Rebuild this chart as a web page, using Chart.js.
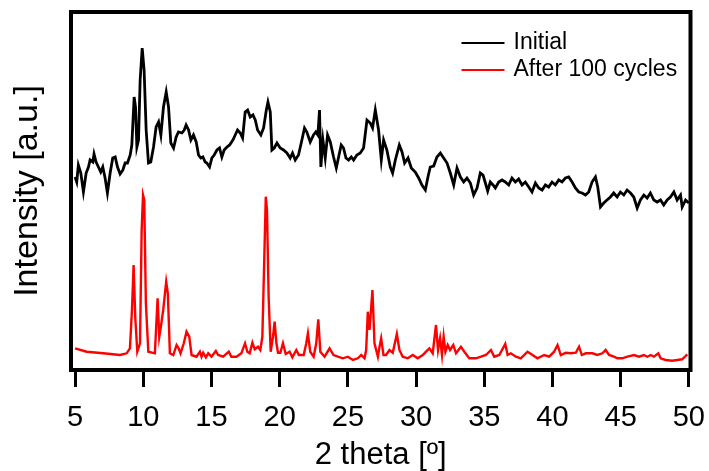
<!DOCTYPE html>
<html lang="en">
<head>
  <meta charset="UTF-8">
  <title>XRD patterns</title>
  <script src="https://cdn.jsdelivr.net/npm/chart.js"></script>
  <style>
    body {
      margin: 0;
      background-color: #ffffff;
    }

    canvas {
      display: block;
    }
  </style>
</head>
<body>
  <canvas id="xrdChart" width="709" height="471"></canvas>

  <script>
    // 2 theta ticks
    const xTicks = [5, 10, 15, 20, 25, 30, 35, 40, 45, 50];

    // Initial sample (black)
    const initialTheta = [
      5.00, 5.12, 5.24, 5.42, 5.61, 5.81, 5.98, 6.10, 6.30, 6.39, 6.54, 6.71, 6.88, 7.03, 7.20, 7.37,
      7.57, 7.76, 7.94, 8.11, 8.30, 8.50, 8.67, 8.84, 9.04, 9.16, 9.33, 9.43, 9.53, 9.65, 9.77, 9.92,
      10.06, 10.21, 10.38, 10.55, 10.75, 10.94, 11.12, 11.29, 11.48, 11.68, 11.85, 12.02, 12.22, 12.41,
      12.58, 12.83, 13.00, 13.14, 13.32, 13.49, 13.68, 13.88, 14.05, 14.22, 14.37, 14.54, 14.66, 14.86,
      15.03, 15.20, 15.40, 15.59, 15.76, 15.93, 16.13, 16.33, 16.57, 16.74, 16.91, 17.11, 17.28, 17.47,
      17.65, 17.84, 18.04, 18.21, 18.38, 18.62, 18.82, 19.02, 19.14, 19.31, 19.43, 19.60, 19.80,
      20.04, 20.28, 20.53, 20.77, 20.94, 21.14, 21.38, 21.58, 21.82, 21.99, 22.24, 22.48, 22.65, 22.80,
      22.92, 23.02, 23.17, 23.34, 23.51, 23.71, 23.95, 24.15, 24.32, 24.51, 24.68, 24.86, 25.05, 25.25,
      25.42, 25.66, 25.91, 26.15, 26.40, 26.64, 26.81, 27.01, 27.25, 27.45, 27.62, 27.86, 28.11, 28.28,
      28.48, 28.77, 28.97, 29.16, 29.41, 29.65, 29.94, 30.19, 30.43, 30.68, 30.87, 31.04, 31.29, 31.53,
      31.78, 32.02, 32.27, 32.51, 32.76, 33.00, 33.25, 33.49, 33.73, 33.98, 34.22, 34.47,
      34.71, 34.91, 35.08, 35.25, 35.44, 35.64, 35.81, 36.06, 36.30, 36.54, 36.79, 37.03, 37.28, 37.52,
      37.77, 38.01, 38.26, 38.50, 38.75, 38.99, 39.24, 39.48, 39.72, 39.97, 40.21, 40.46, 40.70, 40.95,
      41.19, 41.44, 41.68, 41.93, 42.17, 42.42, 42.66, 42.90, 43.15, 43.32, 43.52, 43.76, 44.00, 44.25,
      44.49, 44.74, 44.98, 45.23, 45.47, 45.72, 45.96, 46.21, 46.45, 46.70, 46.94, 47.18, 47.43, 47.67,
      47.92, 48.16, 48.41, 48.65, 48.90, 49.14, 49.39, 49.51, 49.76, 50.00
    ];
    const initialIntensity = [
      193, 188, 205, 197, 178, 197, 203, 210, 208, 216, 208, 203, 198, 203, 192, 177,
      197, 212, 213, 203, 196, 200, 207, 207, 215, 225, 273, 263, 223, 230, 290, 322,
      300, 240, 207, 208, 223, 243, 248, 235, 263, 278, 263, 227, 222, 233,
      238, 237, 240, 245, 240, 230, 235, 228, 215, 212, 213, 208, 207, 203,
      212, 215, 220, 222, 213, 220, 223, 225, 230, 235, 240, 237, 232, 258,
      260, 253, 255, 250, 240, 235, 242, 260, 268, 258, 220, 222, 227,
      222, 220, 217, 212, 217, 210, 215, 227, 242, 238, 228, 235, 238, 235,
      260, 203, 230, 212, 235, 228, 213, 202, 213, 225, 222, 212, 210, 213,
      210, 215, 217, 222, 250, 247, 242, 260, 240, 210, 230, 220, 203, 197,
      210, 225, 218, 207, 212, 202, 198, 192, 185, 180, 193, 203, 204, 213,
      217, 212, 207, 197, 185, 202, 193, 188, 192, 187, 175, 182,
      197, 195, 187, 179, 188, 185, 182, 188, 190, 188, 185, 192, 188, 191,
      185, 188, 183, 178, 187, 182, 180, 185, 183, 188, 185, 190, 188, 192,
      193, 188, 182, 178, 177, 175, 178, 188, 193, 183, 163, 167, 170, 173,
      177, 173, 178, 175, 180, 177, 173, 162, 170, 175, 172, 177, 170, 168,
      170, 165, 170, 173, 178, 170, 175, 163, 170, 167
    ];

    // After 100 cycles (red)
    const cycledTheta = [
      5.00, 5.85, 7.07, 8.29, 8.78, 9.02, 9.17, 9.29, 9.41, 9.56, 9.76, 9.88, 9.98, 10.07, 10.19, 10.37,
      10.85, 11.05, 11.17, 11.29, 11.46, 11.68, 11.80, 11.95, 12.20, 12.44, 12.59, 12.73, 12.97, 13.17,
      13.37, 13.54, 13.90, 14.15, 14.27, 14.39, 14.59, 14.76, 15.00, 15.32, 15.49, 15.85, 16.27, 16.46,
      16.83, 17.19, 17.46, 17.63, 17.80, 18.00, 18.17, 18.41, 18.58, 18.73, 18.88, 18.98, 19.07, 19.19,
      19.34, 19.51, 19.63, 19.76, 19.88, 20.05, 20.24, 20.44, 20.73, 20.93, 21.22, 21.41, 21.76, 21.95,
      22.07, 22.24, 22.49, 22.68, 22.83, 22.98, 23.29, 23.66, 23.95, 24.27, 24.63, 25.00, 25.37, 25.73,
      25.98, 26.22, 26.34, 26.46, 26.59, 26.80, 26.95, 27.20, 27.32, 27.44, 27.61, 27.80, 28.05, 28.29,
      28.59, 28.78, 29.02, 29.39, 29.76, 30.12, 30.49, 30.73, 30.98, 31.22, 31.46, 31.61, 31.76, 31.90,
      32.02, 32.15, 32.32, 32.49, 32.73, 32.93, 33.29, 33.54, 33.90, 34.39, 34.76, 35.12, 35.49, 35.73,
      36.10, 36.54, 36.71, 36.95, 37.32, 37.68, 38.17, 38.54, 38.90, 39.39, 39.76, 40.12, 40.37, 40.61,
      40.98, 41.34, 41.71, 41.95, 42.15, 42.44, 42.93, 43.29, 43.66, 43.90, 44.15, 44.51, 44.76, 45.12,
      45.49, 45.98, 46.34, 46.71, 46.95, 47.20, 47.44, 47.76, 47.93, 48.29, 48.78, 49.15, 49.51, 49.76,
      49.88
    ];
    const cycledIntensity = [
      21.7, 18.3, 16.7, 15.0, 16.7, 21.7, 60, 105, 53, 18.3, 26.7, 140, 175, 170, 66.7, 18.3,
      16.7, 71.7, 33.3, 43.3, 60, 88.3, 76.7, 16.7, 15, 25, 21.7, 16.7, 26.7, 38.3,
      33.3, 15, 13.3, 18.3, 13.3, 17.3, 12.7, 16.7, 13.3, 19, 15, 13.3, 18.3, 13.3,
      13.3, 16.7, 26.7, 18.3, 16.7, 27.3, 20.7, 23.3, 20, 33.3, 116.7, 173.3, 160, 73.3,
      18.3, 33.3, 48.3, 26.7, 17.3, 17.3, 26.7, 16, 18.3, 12.7, 20, 15, 15, 26.7,
      36.7, 18.3, 13.3, 26.7, 50.7, 18.3, 13.3, 21.7, 15, 13.3, 11.7, 13.3, 10, 11.7,
      15, 11.7, 20, 58.3, 40, 80, 26.7, 13.3, 23.3, 31.7, 15, 15, 20, 17.3,
      36, 20, 13.3, 11.7, 15, 11.7, 15, 18.3, 21.7, 16.7, 45, 20, 31.7, 15,
      33.3, 18.3, 25, 20, 25, 16.7, 23.3, 18.3, 11.7, 11.7, 13.3, 15, 20, 13.3,
      15, 26, 15, 16.7, 13.3, 11.7, 18.3, 15, 11.7, 15, 13.3, 18.3, 25, 15,
      17.3, 16.7, 17.3, 23.3, 15, 16.7, 16.7, 15, 16.7, 20, 15, 13.3, 11.7, 11.7,
      13.3, 15, 13.3, 15, 13.3, 15, 13.3, 16.7, 11.7, 10, 9.3, 10, 10.7, 14,
      15.7
    ];

    const fontFamily = '"Liberation Sans", Arial, sans-serif';

    function toPoints(xs, ys) {
      return xs.map((x, i) => ({ x, y: ys[i] }));
    }

    // thick box round the plot area
    const framePlugin = {
      id: 'frame',
      afterDatasetsDraw(chart) {
        const { ctx, chartArea: a } = chart;
        ctx.save();
        ctx.lineWidth = 4;
        ctx.strokeStyle = '#000';
        ctx.strokeRect(a.left, a.top, a.right - a.left, a.bottom - a.top);
        ctx.restore();
      }
    };

    // legend inside the top right corner
    const insetLegend = {
      id: 'insetLegend',
      afterDraw(chart) {
        const { ctx, chartArea: a } = chart;
        const x0 = a.right - 229;
        ctx.save();
        ctx.font = '23px ' + fontFamily;
        ctx.textBaseline = 'middle';
        chart.data.datasets.forEach((ds, i) => {
          const y = a.top + 31 + i * 27;
          ctx.strokeStyle = ds.borderColor;
          ctx.lineWidth = 2;
          ctx.beginPath();
          ctx.moveTo(x0, y);
          ctx.lineTo(x0 + 43, y);
          ctx.stroke();
          ctx.fillStyle = '#000';
          ctx.fillText(ds.label, x0 + 52, y);
        });
        ctx.restore();
      }
    };

    new Chart(document.getElementById('xrdChart'), {
      type: 'line',
      data: {
        datasets: [
          {
            label: 'Initial',
            data: toPoints(initialTheta, initialIntensity),
            borderColor: '#000000',
            borderWidth: 2.8,
            pointRadius: 0,
            tension: 0,
          },
          {
            label: 'After 100 cycles',
            data: toPoints(cycledTheta, cycledIntensity),
            borderColor: '#ff0000',
            borderWidth: 2.4,
            pointRadius: 0,
            tension: 0,
          },
        ],
      },
      options: {
        responsive: false,
        animation: false,
        layout: {
          padding: { top: 12, right: 18.5, bottom: 0, left: 0 },
        },
        plugins: {
          legend: { display: false },
          tooltip: { enabled: false },
        },
        scales: {
          x: {
            type: 'linear',
            min: 4.7,
            max: 50.12,
            afterFit(scale) {
              scale.height = 101;
              scale.paddingLeft = 0;
              scale.paddingRight = 0;
            },
            afterBuildTicks(scale) {
              scale.ticks = xTicks.map(v => ({ value: v }));
            },
            border: { display: false },
            grid: {
              drawOnChartArea: false,
              tickLength: 17,
              tickWidth: 3,
              tickColor: '#000',
            },
            ticks: {
              color: '#000',
              padding: 16,
              maxRotation: 0,
              autoSkip: false,
              font: { family: fontFamily, size: 29, lineHeight: 1 },
            },
            title: {
              display: true,
              text: '2 theta [º]',
              color: '#000',
              padding: { top: 0, bottom: 0 },
              font: { family: fontFamily, size: 31, lineHeight: 1 },
            },
          },
          y: {
            min: 0,
            max: 358,
            afterFit(scale) { scale.width = 71; },
            border: { display: false },
            grid: { display: false, drawTicks: false },
            ticks: { display: false },
            title: {
              display: true,
              text: 'Intensity [a.u.]',
              color: '#000',
              padding: { top: 7, bottom: 0 },
              font: { family: fontFamily, size: 34, lineHeight: 1.2 },
            },
          },
        },
      },
      plugins: [framePlugin, insetLegend],
    });
  </script>
</body>
</html>
